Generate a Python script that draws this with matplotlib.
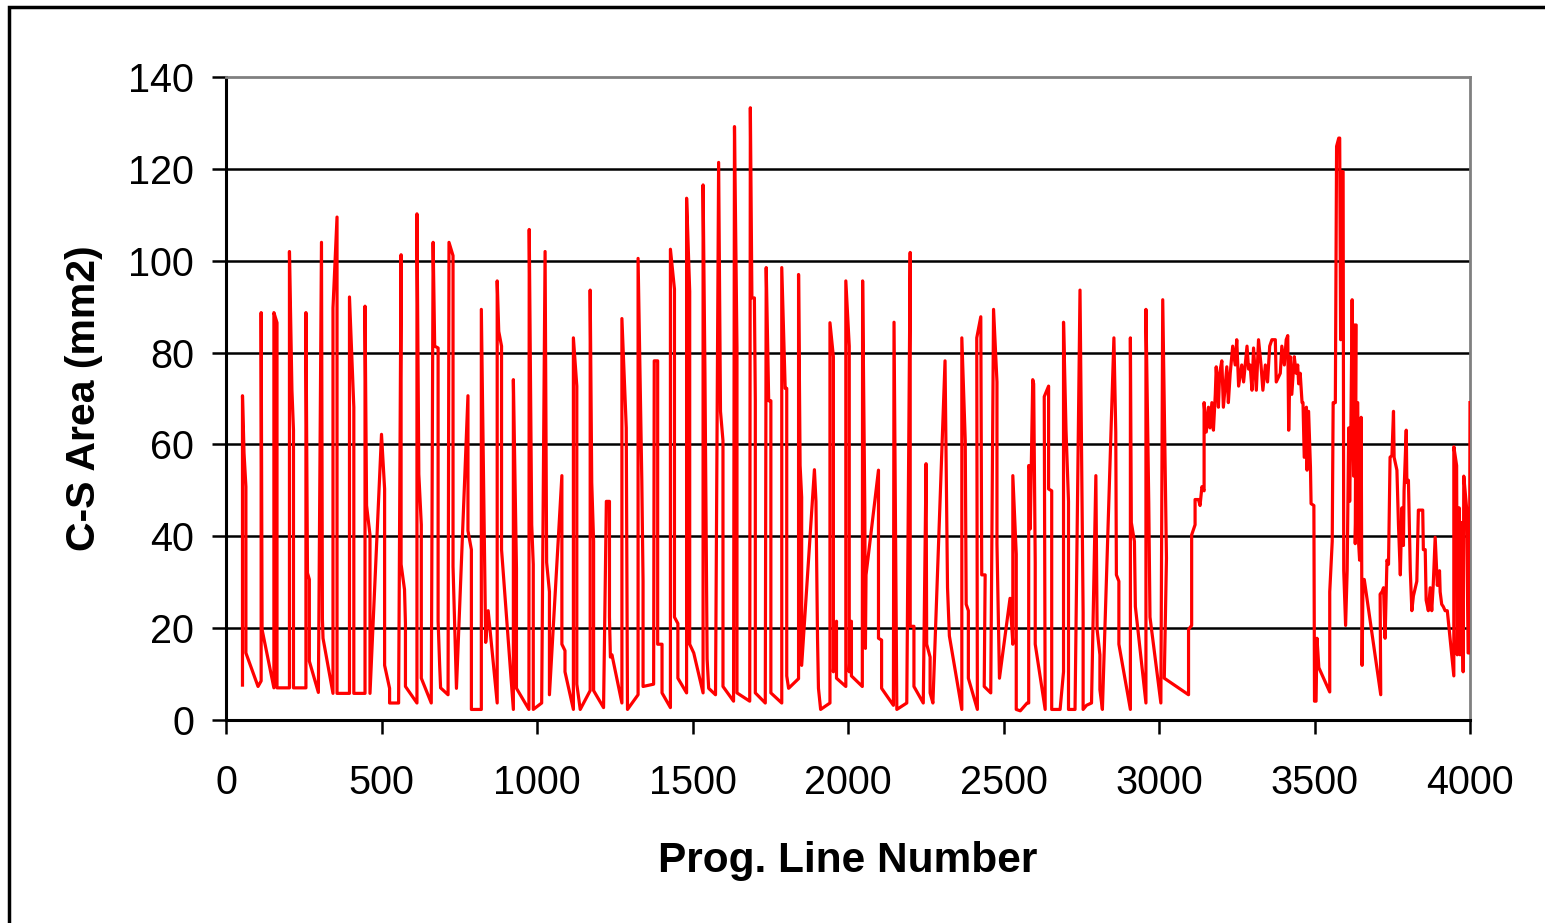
import matplotlib
matplotlib.use("Agg")
import matplotlib.pyplot as plt
from matplotlib.patches import Rectangle
import numpy as np

plt.rcParams['font.family'] = ['Liberation Sans', 'DejaVu Sans']

# (prog line number, C-S area mm2), in drawing order
part_0_1000 = [
    (53, 7.6), (53, 70.6), (58, 58.1), (64, 50.8), (64, 14.6), (103, 7.3), (113, 8.5),
    (113, 88.7), (116, 19.7), (154, 7.0), (154, 88.7), (164, 86.5), (164, 7.0), (204, 7.0),
    (204, 102.0), (212, 71.8), (217, 63.1), (217, 7.0), (257, 7.0), (257, 88.7), (262, 32.0),
    (268, 30.6), (268, 12.8), (297, 6.0), (307, 104.0), (310, 22.0), (312, 17.8), (344, 5.8),
    (344, 89.7), (357, 109.5), (357, 5.8), (397, 5.8), (397, 92.1), (411, 68.1), (411, 5.8),
    (447, 5.8), (447, 90.1), (452, 46.7), (463, 40.3), (463, 5.8), (500, 62.2), (510, 50.3),
    (510, 11.9), (522, 8.2), (526, 6.9), (526, 3.7), (555, 3.7), (563, 101.3), (563, 33.9),
    (574, 28.4), (577, 21.0), (577, 7.3), (614, 3.7), (614, 110.2), (620, 53.5), (628, 42.5),
    (628, 9.1), (660, 3.7), (666, 104.0), (671, 81.4), (682, 81.0), (682, 21.5), (687, 11.9),
    (690, 7.0), (714, 5.5), (717, 104.0), (730, 101.1), (730, 33.4), (735, 21.5), (741, 6.9),
    (778, 70.6), (778, 41.2), (789, 37.1), (789, 2.3), (821, 2.3), (821, 89.4), (835, 16.9),
    (843, 23.8), (872, 3.7), (872, 95.6), (877, 84.6), (886, 81.4), (886, 37.1), (924, 2.3),
    (924, 74.1), (934, 32.9), (934, 6.9), (974, 2.3), (975, 106.8), (983, 42.5), (988, 33.9),
    (988, 2.3),
]
part_1000_2000 = [
    (1015, 3.7), (1026, 102.0), (1031, 34.3), (1040, 27.9), (1040, 5.5), (1080, 53.2),
    (1080, 16.5), (1090, 15.1), (1090, 10.5), (1117, 2.3), (1117, 83.2), (1128, 72.7),
    (1128, 7.8), (1139, 2.3), (1171, 6.4), (1171, 93.6), (1176, 51.7), (1182, 38.9),
    (1182, 6.4), (1214, 2.7), (1223, 47.6), (1233, 47.6), (1233, 22.4), (1236, 13.7),
    (1241, 14.2), (1273, 3.7), (1273, 87.4), (1287, 63.6), (1291, 2.3), (1325, 5.5),
    (1325, 100.5), (1337, 52.2), (1341, 30.2), (1341, 7.3), (1375, 7.8), (1377, 78.2),
    (1388, 78.2), (1388, 16.5), (1402, 16.5), (1402, 5.9), (1429, 2.7), (1429, 102.5),
    (1442, 93.8), (1442, 22.4), (1453, 21.0), (1453, 9.1), (1481, 5.9), (1481, 113.6),
    (1491, 93.3), (1491, 16.5), (1504, 14.6), (1534, 5.9), (1534, 116.5), (1540, 75.5),
    (1547, 13.3), (1552, 6.9), (1574, 5.5), (1584, 121.4), (1590, 67.2), (1598, 60.8),
    (1598, 7.3), (1632, 4.1), (1635, 129.2), (1643, 81.0), (1643, 5.9), (1684, 4.1),
    (1686, 133.3), (1691, 91.9), (1699, 91.9), (1702, 69.5), (1702, 5.9), (1734, 3.7),
    (1737, 98.5), (1745, 69.5), (1752, 69.5), (1752, 5.9), (1787, 3.7), (1787, 98.5),
    (1798, 72.2), (1803, 72.2), (1803, 9.6), (1809, 6.9), (1841, 9.0), (1841, 97.0),
    (1846, 55.4), (1851, 48.5), (1851, 11.9), (1892, 54.5), (1897, 47.6), (1902, 17.8),
    (1905, 6.9), (1912, 2.3), (1942, 3.7), (1942, 86.5), (1953, 79.1), (1953, 10.5),
    (1963, 21.5), (1963, 9.1), (1993, 7.3), (1993, 95.6), (2004, 81.4), (2004, 10.5),
]
part_2000_3000 = [
    (2011, 21.5), (2011, 9.6), (2046, 7.3), (2047, 95.6), (2054, 46.2), (2056, 15.6),
    (2058, 31.6), (2098, 54.4), (2098, 17.8), (2108, 17.4), (2108, 6.9), (2146, 3.2),
    (2148, 86.6), (2155, 22.9), (2157, 2.3), (2189, 3.7), (2200, 101.8), (2200, 20.4),
    (2212, 20.4), (2212, 7.3), (2242, 3.7), (2251, 55.8), (2253, 16.5), (2264, 13.7),
    (2264, 5.9), (2273, 3.7), (2312, 78.2), (2320, 28.8), (2326, 18.3), (2366, 2.3),
    (2366, 83.2), (2377, 60.8), (2380, 25.2), (2387, 23.8), (2387, 9.1), (2416, 2.3),
    (2414, 83.2), (2427, 87.8), (2430, 31.6), (2441, 31.6), (2438, 7.3), (2459, 5.9),
    (2468, 89.4), (2479, 73.6), (2479, 38.4), (2487, 9.1), (2521, 26.5), (2530, 16.5),
    (2530, 53.2), (2541, 36.1), (2541, 2.3), (2554, 2.0), (2576, 3.7), (2581, 3.7),
    (2581, 55.4), (2586, 54.4), (2586, 41.6), (2594, 74.1), (2597, 73.2), (2602, 34.3),
    (2602, 16.5), (2634, 2.3), (2631, 70.4), (2645, 72.7), (2645, 50.3), (2655, 49.9),
    (2655, 2.3), (2682, 2.3), (2693, 10.5), (2693, 86.6), (2701, 63.1), (2709, 47.6),
    (2709, 2.3), (2730, 2.3), (2746, 93.6), (2756, 23.3), (2756, 2.3), (2767, 3.2),
    (2783, 3.7), (2797, 53.2), (2801, 19.7), (2810, 14.2), (2810, 6.6), (2818, 2.3),
    (2855, 83.2), (2861, 62.7), (2863, 31.6), (2871, 30.2), (2871, 16.5), (2908, 2.3),
    (2908, 83.2), (2911, 43.0), (2921, 38.9), (2924, 24.7), (2958, 3.7), (2958, 89.4),
    (2967, 47.6), (2971, 22.4), (3006, 3.7),
]
part_3000_4000 = [
    (3012, 91.5), (3022, 45.3), (3024, 35.2), (3017, 9.1), (3095, 5.5), (3095, 19.7),
    (3105, 20.6), (3105, 40.3), (3116, 42.5), (3116, 48.0), (3127, 48.0), (3132, 46.7),
    (3138, 50.8), (3145, 49.9), (3145, 69.1), (3152, 62.7), (3159, 68.1), (3164, 63.6),
    (3170, 69.1), (3175, 63.1), (3181, 70.9), (3184, 76.9), (3191, 68.1), (3195, 75.5),
    (3202, 78.2), (3207, 68.1), (3218, 76.9), (3223, 69.1), (3229, 75.5), (3237, 81.4),
    (3245, 77.3), (3250, 82.8), (3256, 72.7), (3266, 77.3), (3272, 73.6), (3283, 81.4),
    (3288, 76.4), (3293, 77.3), (3299, 71.8), (3304, 81.0), (3313, 71.8), (3320, 82.8),
    (3328, 77.3), (3334, 71.8), (3342, 77.3), (3349, 73.6), (3356, 81.4), (3363, 82.8),
    (3374, 82.8), (3377, 73.6), (3390, 75.5), (3395, 81.4), (3403, 77.3), (3409, 82.8),
    (3414, 83.7), (3417, 63.1), (3422, 79.1), (3427, 70.9), (3435, 79.1), (3441, 75.5),
    (3446, 77.3), (3449, 73.2), (3454, 75.5), (3460, 69.1), (3463, 69.1), (3467, 57.2),
    (3474, 68.1), (3476, 54.4), (3481, 67.2), (3487, 55.0), (3489, 47.1), (3498, 46.7),
    (3500, 4.1), (3505, 4.1), (3508, 17.8), (3514, 11.4), (3549, 6.1), (3549, 27.9),
    (3557, 38.9), (3560, 69.1), (3567, 69.1), (3571, 124.9), (3578, 126.7), (3581, 126.7),
    (3584, 82.8), (3587, 119.4), (3592, 119.4), (3594, 32.5), (3600, 20.6), (3605, 32.5),
    (3610, 63.6), (3613, 47.6), (3617, 63.6), (3621, 91.5), (3626, 53.1), (3628, 86.0),
    (3634, 86.0), (3631, 38.4), (3639, 69.1), (3642, 38.4), (3645, 34.8), (3650, 65.9),
    (3653, 11.9), (3656, 30.6), (3660, 30.6), (3713, 5.5), (3711, 27.4), (3717, 27.9),
    (3722, 28.8), (3727, 17.8), (3733, 34.8), (3738, 33.9), (3743, 57.2), (3749, 57.6),
    (3754, 67.2), (3756, 57.2), (3765, 54.4), (3770, 42.5), (3776, 31.6), (3781, 46.2),
    (3786, 38.0), (3788, 49.9), (3795, 63.1), (3797, 51.7), (3802, 52.2), (3808, 32.5),
    (3813, 23.8), (3818, 27.0), (3824, 28.8), (3829, 30.2), (3834, 45.7), (3848, 45.7),
    (3850, 37.1), (3856, 37.1), (3859, 26.1), (3866, 23.8), (3872, 28.8), (3877, 23.8),
    (3882, 29.7), (3888, 39.8), (3893, 32.5), (3895, 29.3), (3902, 32.5), (3904, 27.9),
    (3909, 25.2), (3914, 24.7), (3920, 23.8), (3927, 23.8), (3948, 9.6), (3948, 59.5),
    (3957, 55.4), (3959, 14.2), (3965, 46.2), (3968, 14.2), (3973, 43.0), (3978, 10.5),
    (3980, 53.1), (3989, 46.2), (3994, 14.6), (3998, 14.6), (4000, 69.1),
]

x_ticks = [0, 500, 1000, 1500, 2000, 2500, 3000, 3500, 4000]
y_ticks = [0, 20, 40, 60, 80, 100, 120, 140]

pts = part_0_1000 + part_1000_2000 + part_2000_3000 + part_3000_4000
line_no = np.array([p[0] for p in pts])
area = np.array([p[1] for p in pts])

W, H = 1545, 923
fig = plt.figure(figsize=(W / 100, H / 100), dpi=100)
ax = fig.add_axes([226 / W, 1 - 720 / H, (1470 - 226) / W, (720 - 77) / H])

# outer chart frame (runs off the right and bottom edges)
fig.patches.append(Rectangle((9 / W, -0.1), 1.2, 1.1 - 7 / H, transform=fig.transFigure,
                             fill=False, edgecolor='black', linewidth=2.5))

for g in y_ticks[1:-1]:
    ax.axhline(g, color='black', linewidth=1.8, zorder=1)

ax.plot(line_no, area, color='#ff0000', linewidth=2.3, zorder=3)

ax.set_xlim(0, 4000)
ax.set_ylim(0, 140)
ax.set_xticks(x_ticks)
ax.set_yticks(y_ticks)
ax.tick_params(axis='both', direction='out', length=10, width=1.8, labelsize=28.5, colors='black')
ax.tick_params(axis='y', pad=13)
ax.tick_params(axis='x', pad=22)

ax.spines['left'].set_linewidth(2.2)
ax.spines['bottom'].set_linewidth(2.2)
for s in ['top', 'right']:
    ax.spines[s].set_color('#808080')
    ax.spines[s].set_linewidth(2.0)

ax.set_xlabel('Prog. Line Number', fontsize=30.5, fontweight='bold', labelpad=28)
ax.set_ylabel('C-S Area (mm2)', fontsize=29.5, fontweight='bold', labelpad=18)

fig.savefig('out.png', dpi=100)
